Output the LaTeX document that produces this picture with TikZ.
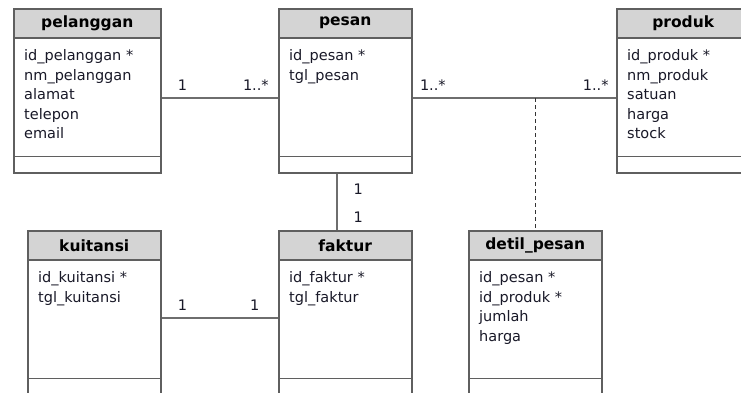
\documentclass[tikz,border=0pt]{standalone}
\usepackage{fontspec}
\setmainfont{DejaVu Sans}
\usepackage{xcolor}
\usetikzlibrary{calc,positioning}

\definecolor{hdrgray}{RGB}{212,212,212}
\definecolor{boxline}{RGB}{95,95,95}
\definecolor{linkgray}{RGB}{110,110,110}
\definecolor{txtdark}{RGB}{25,25,40}

\tikzset{
  clsbox/.style={draw=boxline,line width=1.5pt,fill=white,inner sep=0pt},
  clshead/.style={draw=boxline,line width=1.5pt,fill=hdrgray,minimum height=29pt,inner sep=0pt,
    font=\fontsize{15.5}{18}\selectfont\bfseries,text=black},
  clsattr/.style={inner sep=0pt,align=left,anchor=north west,
    font=\fontsize{14.5}{19.5}\selectfont,text=txtdark},
  assoc/.style={draw=linkgray,line width=1.1pt},
  depend/.style={draw=black!80,line width=0.9pt,dash pattern=on 4pt off 3pt},
  mult/.style={inner sep=1pt,font=\fontsize{14.5}{16}\selectfont,text=txtdark}
}

% class box: name, top left, width, height, title, attributes
\newcommand{\umlclass}[6]{%
  \node[clsbox,minimum width=#3,minimum height=#4,anchor=north west] (#1) at (#2) {};
  \node[clshead,minimum width=#3,anchor=north west] (#1-h) at (#1.north west) {#5};
  \node[clsattr] (#1-a) at ([xshift=11pt,yshift=-11pt]#1-h.south west) {#6};
  \draw[boxline,line width=1.5pt] ([yshift=17pt]#1.south west) -- ([yshift=17pt]#1.south east);
}

\begin{document}
\begin{tikzpicture}[x=1pt,y=-1pt]
  \useasboundingbox (0,0) rectangle (741,392);
  \clip (0,0) rectangle (741,392);

  % classes
  \umlclass{pelanggan}{13,8}{147pt}{164pt}{pelanggan}{id\_pelanggan *\\nm\_pelanggan\\alamat\\telepon\\email}
  \umlclass{pesan}{278,8}{133pt}{164pt}{pesan}{id\_pesan *\\tgl\_pesan}
  \umlclass{produk}{616,8}{133pt}{164pt}{produk}{id\_produk *\\nm\_produk\\satuan\\harga\\stock}
  \umlclass{kuitansi}{27,230}{133pt}{164pt}{kuitansi}{id\_kuitansi *\\tgl\_kuitansi}
  \umlclass{faktur}{278,230}{133pt}{164pt}{faktur}{id\_faktur *\\tgl\_faktur}
  \umlclass{detil}{468,230}{133pt}{164pt}{detil\_pesan}{id\_pesan *\\id\_produk *\\jumlah\\harga}

  % rows and columns of the links
  \coordinate (rowA) at (0,98);
  \coordinate (rowB) at (0,318);
  \coordinate (colA) at (337,0);

  % associations
  \draw[assoc] (pelanggan.east |- rowA) -- (pesan.west |- rowA)
    node[mult,pos=.18,above=6pt] (m1) {1}
    node[mult,pos=.81,above=6pt] (m2) {1..*};
  \draw[assoc] (pesan.east |- rowA) -- (produk.west |- rowA)
    node[mult,pos=.10,above=6pt] (m3) {1..*}
    node[mult,pos=.90,above=6pt] (m4) {1..*};
  \draw[assoc] (pesan.south -| colA) -- (faktur-h.north -| colA)
    node[mult,pos=.28,right=15pt] (m5) {1}
    node[mult,pos=.78,right=15pt] (m6) {1};
  \draw[assoc] (kuitansi.east |- rowB) -- (faktur.west |- rowB)
    node[mult,pos=.18,above=6pt] (m7) {1}
    node[mult,pos=.80,above=6pt] (m8) {1};
  \draw[depend] (detil-h.north |- rowA) -- (detil-h.north);
\end{tikzpicture}
\end{document}
